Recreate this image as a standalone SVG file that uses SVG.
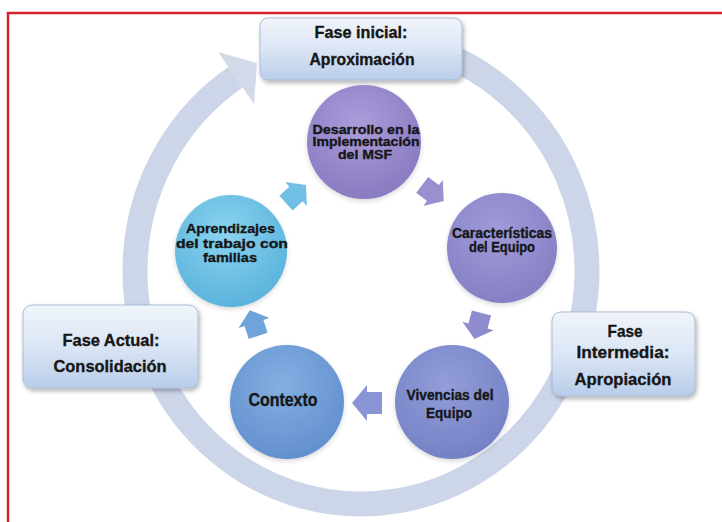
<svg xmlns="http://www.w3.org/2000/svg" xmlns:xlink="http://www.w3.org/1999/xlink" width="722" height="522" viewBox="0 0 722 522">
<style>
  .t { font-family: "Liberation Sans", Arial, sans-serif; font-weight: bold; fill: #161616; stroke: #161616; stroke-width: 0.35; text-anchor: middle; }
  .box { stroke: #a9bbd6; stroke-width: 1; fill: url(#boxGrad); filter: url(#shadow); }
  .ring { fill: none; stroke: #cdd6e8; stroke-width: 25; }
  .circ { filter: url(#cshadow); }
</style>
<defs>
  <linearGradient id="boxGrad" x1="0" y1="0" x2="0" y2="1">
    <stop offset="0" stop-color="#f1f5fb"/>
    <stop offset="0.5" stop-color="#dbe5f4"/>
    <stop offset="1" stop-color="#b9cdea"/>
  </linearGradient>
  <radialGradient id="gDes" cx="0.45" cy="0.35" r="0.65">
    <stop offset="0" stop-color="#ab9cdb"/>
    <stop offset="1" stop-color="#8a7bc2"/>
  </radialGradient>
  <radialGradient id="gCar" cx="0.45" cy="0.35" r="0.65">
    <stop offset="0" stop-color="#a09cdb"/>
    <stop offset="1" stop-color="#8480c3"/>
  </radialGradient>
  <radialGradient id="gViv" cx="0.45" cy="0.35" r="0.65">
    <stop offset="0" stop-color="#939ddb"/>
    <stop offset="1" stop-color="#7482c4"/>
  </radialGradient>
  <radialGradient id="gCon" cx="0.45" cy="0.35" r="0.65">
    <stop offset="0" stop-color="#84afe2"/>
    <stop offset="1" stop-color="#6390cf"/>
  </radialGradient>
  <radialGradient id="gApr" cx="0.45" cy="0.35" r="0.65">
    <stop offset="0" stop-color="#8ad4f0"/>
    <stop offset="1" stop-color="#5bb3dc"/>
  </radialGradient>
  <filter id="shadow" x="-10%" y="-10%" width="130%" height="140%">
    <feDropShadow dx="1.5" dy="2.5" stdDeviation="2" flood-color="#000" flood-opacity="0.3"/>
  </filter>
  <filter id="cshadow" x="-10%" y="-10%" width="130%" height="130%">
    <feDropShadow dx="0" dy="2" stdDeviation="2" flood-color="#333" flood-opacity="0.2"/>
  </filter>
  <path id="blk" d="M-15,-11 H0 V-18 L15,0 L0,18 V11 H-15 Z"/>
</defs>

<rect width="722" height="522" fill="#ffffff"/>
<path d="M8,522 V13 H722" fill="none" stroke="#d4232b" stroke-width="2.5"/>

<g id="connectors">
  <path id="cycle-ring" class="ring" d="M419.5,45.9 A226,233 0 1 1 235.6,77.1"/>
  <polygon id="cycle-head" points="218,52 257,63 254,104" fill="#d2daea"/>
  <use id="arr-apr-des" xlink:href="#blk" fill="#6fc0e4" transform="translate(296,194) rotate(-42) scale(0.9)"/>
  <use id="arr-des-car" xlink:href="#blk" fill="#9b8fd0" transform="translate(433,193) rotate(37) scale(0.9)"/>
  <use id="arr-car-viv" xlink:href="#blk" fill="#8e8ccf" transform="translate(478,326) rotate(105) scale(0.9)"/>
  <use id="arr-viv-con" xlink:href="#blk" fill="#8a94d4" transform="translate(367,403) rotate(180)"/>
  <use id="arr-con-apr" xlink:href="#blk" fill="#6fa3db" transform="translate(254,323) rotate(-108) scale(0.9)"/>
</g>

<g id="fase-inicial">
  <rect class="box" x="260" y="18" width="202" height="62" rx="8"/>
  <text class="t" x="361" y="38" font-size="17" textLength="93" lengthAdjust="spacingAndGlyphs">Fase inicial:</text>
  <text class="t" x="362" y="65" font-size="17" textLength="105" lengthAdjust="spacingAndGlyphs">Aproximación</text>
</g>

<g id="fase-actual">
  <rect class="box" x="23" y="305" width="175" height="83" rx="9"/>
  <text class="t" x="111" y="346" font-size="17" textLength="97" lengthAdjust="spacingAndGlyphs">Fase Actual:</text>
  <text class="t" x="110" y="372" font-size="17" textLength="113" lengthAdjust="spacingAndGlyphs">Consolidación</text>
</g>

<g id="fase-intermedia">
  <rect class="box" x="552" y="312" width="143" height="84" rx="9"/>
  <text class="t" x="625" y="337" font-size="17" textLength="35" lengthAdjust="spacingAndGlyphs">Fase</text>
  <text class="t" x="623" y="358" font-size="17" textLength="93" lengthAdjust="spacingAndGlyphs">Intermedia:</text>
  <text class="t" x="623" y="385" font-size="17" textLength="97" lengthAdjust="spacingAndGlyphs">Apropiación</text>
</g>

<g id="node-desarrollo">
  <circle class="circ" cx="364" cy="142" r="57" fill="url(#gDes)"/>
  <text class="t" x="366" y="133.5" font-size="12.5" textLength="107" lengthAdjust="spacingAndGlyphs">Desarrollo en la</text>
  <text class="t" x="366" y="146" font-size="12.5" textLength="107" lengthAdjust="spacingAndGlyphs">Implementación</text>
  <text class="t" x="365" y="158.5" font-size="12.5" textLength="54" lengthAdjust="spacingAndGlyphs">del MSF</text>
</g>

<g id="node-caracteristicas">
  <circle class="circ" cx="502" cy="248" r="55" fill="url(#gCar)"/>
  <text class="t" x="502" y="237.5" font-size="14" textLength="100" lengthAdjust="spacingAndGlyphs">Características</text>
  <text class="t" x="502" y="252" font-size="14" textLength="66" lengthAdjust="spacingAndGlyphs">del Equipo</text>
</g>

<g id="node-vivencias">
  <circle class="circ" cx="452" cy="402" r="57" fill="url(#gViv)"/>
  <text class="t" x="450" y="399.5" font-size="14.5" textLength="87" lengthAdjust="spacingAndGlyphs">Vivencias del</text>
  <text class="t" x="449" y="418" font-size="14.5" textLength="46" lengthAdjust="spacingAndGlyphs">Equipo</text>
</g>

<g id="node-contexto">
  <circle class="circ" cx="287" cy="402" r="57" fill="url(#gCon)"/>
  <text class="t" x="283" y="406" font-size="17.5" textLength="69" lengthAdjust="spacingAndGlyphs">Contexto</text>
</g>

<g id="node-aprendizajes">
  <circle class="circ" cx="231" cy="251" r="56" fill="url(#gApr)"/>
  <text class="t" x="230.5" y="233" font-size="13.5" textLength="89" lengthAdjust="spacingAndGlyphs">Aprendizajes</text>
  <text class="t" x="232" y="247.5" font-size="13.5" textLength="112" lengthAdjust="spacingAndGlyphs">del trabajo con</text>
  <text class="t" x="230" y="262" font-size="13.5" textLength="54" lengthAdjust="spacingAndGlyphs">familias</text>
</g>
</svg>
